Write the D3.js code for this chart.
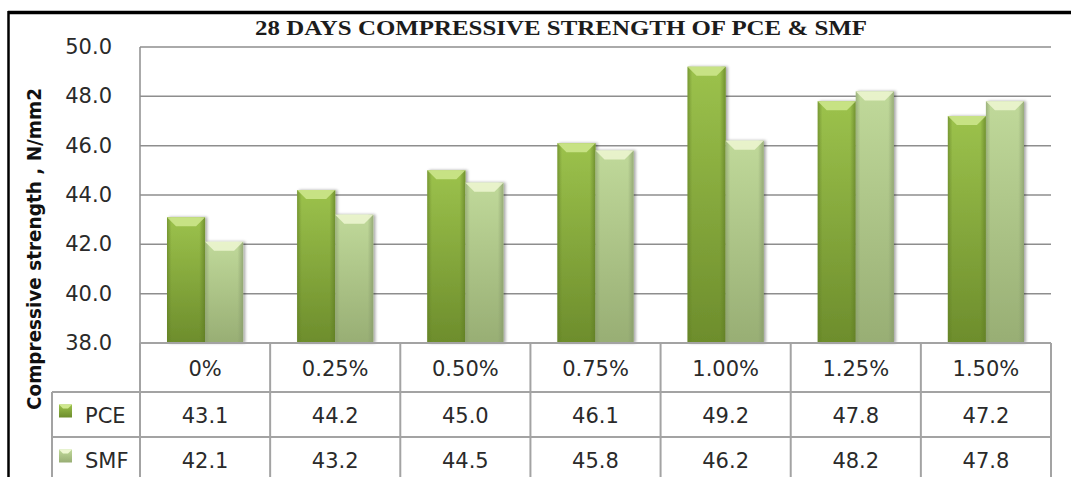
<!DOCTYPE html>
<html>
<head>
<meta charset="utf-8">
<script src="https://cdn.jsdelivr.net/npm/d3@7"></script>
<style>
  body { margin: 0; background: #fff; }
  svg { display: block; }
  .grid { stroke: #8e8e8e; stroke-width: 1.5; }
  .cell { stroke: #a3a3a3; stroke-width: 2; fill: none; }
  .tick { font-family: "DejaVu Sans", sans-serif; font-size: 21px; fill: #2a2a2a; }
  .val { font-family: "DejaVu Sans", sans-serif; font-size: 21px; fill: #2a2a2a; }
</style>
</head>
<body>
<div id="main"></div>
<script>
const ctx = {
    W: 1071,
    H: 477,
};

const categories = ["0%", "0.25%", "0.50%", "0.75%", "1.00%", "1.25%", "1.50%"];
const seriesNames = ["PCE", "SMF"];
const pce = [43.1, 44.2, 45.0, 46.1, 49.2, 47.8, 47.2];
const smf = [42.1, 43.2, 44.5, 45.8, 46.2, 48.2, 47.8];
const yTicks = [38, 40, 42, 44, 46, 48, 50];
const title = "28 DAYS COMPRESSIVE STRENGTH OF PCE & SMF";
const yLabel = "Compressive strength , N/mm2";

const colors = {
    PCE: { top: "#cfe88e", light: "#9cc24c", dark: "#6d8d2c", edge: "#5f7d24" },
    SMF: { top: "#eef7d2", light: "#c0d99a", dark: "#98ae74", edge: "#86996a" },
};

function createViz() {
    let svg = d3.select("#main").append("svg")
        .attr("width", ctx.W)
        .attr("height", ctx.H);

    let defs = svg.append("defs");
    seriesNames.forEach(s => {
        let c = colors[s];
        let v = defs.append("linearGradient").attr("id", "v" + s)
            .attr("x1", 0).attr("y1", 0).attr("x2", 0).attr("y2", 1);
        v.append("stop").attr("offset", "0%").attr("stop-color", c.light);
        v.append("stop").attr("offset", "100%").attr("stop-color", c.dark);
        let h = defs.append("linearGradient").attr("id", "h" + s)
            .attr("x1", 0).attr("y1", 0).attr("x2", 1).attr("y2", 0);
        h.append("stop").attr("offset", "0%").attr("stop-color", c.edge).attr("stop-opacity", 0.6);
        h.append("stop").attr("offset", "12%").attr("stop-color", c.edge).attr("stop-opacity", 0);
        h.append("stop").attr("offset", "85%").attr("stop-color", c.edge).attr("stop-opacity", 0);
        h.append("stop").attr("offset", "100%").attr("stop-color", c.edge).attr("stop-opacity", 0.7);
    });
    let sh = defs.append("filter").attr("id", "shadow")
        .attr("x", "-20%").attr("y", "-10%").attr("width", "150%").attr("height", "120%");
    sh.append("feGaussianBlur").attr("in", "SourceAlpha").attr("stdDeviation", 1.5);
    sh.append("feOffset").attr("dx", 2).attr("dy", 0).attr("result", "b");
    sh.append("feComponentTransfer").append("feFuncA").attr("type", "linear").attr("slope", 0.35);
    let m = sh.append("feMerge");
    m.append("feMergeNode");
    m.append("feMergeNode").attr("in", "SourceGraphic");

    // outer frame
    svg.append("line").attr("x1", 8).attr("x2", ctx.W).attr("y1", 12.5).attr("y2", 12.5)
        .attr("stroke", "#000").attr("stroke-width", 3.5);
    svg.append("line").attr("x1", 8.5).attr("x2", 8.5).attr("y1", 11).attr("y2", ctx.H)
        .attr("stroke", "#000").attr("stroke-width", 2.5);

    // title
    svg.append("text")
        .attr("x", 561).attr("y", 35)
        .attr("text-anchor", "middle")
        .attr("textLength", 612).attr("lengthAdjust", "spacingAndGlyphs")
        .style("font-family", "'Liberation Serif', 'Times New Roman', serif")
        .style("font-weight", "bold").style("font-size", "22px").style("fill", "#1c1c1c")
        .text(title);

    let x0 = d3.scaleBand().domain(categories).range([140, 1051])
        .paddingInner(0.415).paddingOuter(0.2075);
    let x1 = d3.scaleBand().domain(seriesNames).range([0, x0.bandwidth()]);
    let y = d3.scaleLinear().domain([38, 50]).range([343, 47]);
    let cols = d3.scaleBand().domain(categories).range([140, 1051]);

    // gridlines
    svg.append("g").selectAll("line").data(yTicks.filter(t => t > 38)).enter().append("line")
        .attr("class", "grid")
        .attr("x1", 140).attr("x2", 1051)
        .attr("y1", d => y(d)).attr("y2", d => y(d));
    svg.append("line").attr("class", "grid")
        .attr("x1", 140).attr("x2", 140).attr("y1", y(50)).attr("y2", y(38));

    // y tick labels
    svg.append("g").selectAll("text").data(yTicks).enter().append("text")
        .attr("class", "tick")
        .attr("x", 112).attr("y", d => y(d) + 7)
        .attr("text-anchor", "end")
        .text(d => d3.format(".1f")(d));

    // y label
    svg.append("text")
        .attr("transform", "translate(41,249) rotate(-90)")
        .attr("text-anchor", "middle")
        .attr("textLength", 322).attr("lengthAdjust", "spacingAndGlyphs")
        .style("font-family", "'DejaVu Sans', sans-serif")
        .style("font-weight", "bold").style("font-size", "19px").style("fill", "#111")
        .text(yLabel);

    // bars
    let rows = categories.map((c, i) => ({ cat: c, PCE: pce[i], SMF: smf[i] }));
    let groups = svg.append("g").selectAll("g").data(rows).enter().append("g")
        .attr("transform", d => "translate(" + x0(d.cat) + ",0)");
    let bars = groups.selectAll("g").data(d => seriesNames.map(s => ({ s: s, v: d[s] })))
        .enter().append("g")
        .attr("filter", "url(#shadow)");
    bars.append("rect")
        .attr("x", d => x1(d.s)).attr("width", x1.bandwidth())
        .attr("y", d => y(d.v)).attr("height", d => y(38) - y(d.v))
        .attr("fill", d => "url(#v" + d.s + ")");
    bars.append("rect")
        .attr("x", d => x1(d.s)).attr("width", x1.bandwidth())
        .attr("y", d => y(d.v)).attr("height", d => y(38) - y(d.v))
        .attr("fill", d => "url(#h" + d.s + ")");
    bars.append("path")
        .attr("d", d => {
            let bx = x1(d.s), bw = x1.bandwidth(), by = y(d.v);
            return "M" + bx + "," + by + "L" + (bx + bw) + "," + by +
                "L" + (bx + bw - 9) + "," + (by + 9) + "L" + (bx + 9) + "," + (by + 9) + "Z";
        })
        .attr("fill", d => colors[d.s].top).attr("opacity", 0.85);

    // data table
    let table = svg.append("g");
    let rowY = [343, 392, 437, 482];
    table.append("line").attr("class", "cell")
        .attr("x1", 140).attr("x2", 1051).attr("y1", rowY[0]).attr("y2", rowY[0]);
    table.selectAll("line.h").data([rowY[1], rowY[2]]).enter().append("line")
        .attr("class", "cell")
        .attr("x1", 52).attr("x2", 1051).attr("y1", d => d).attr("y2", d => d);
    let vx = categories.map(c => cols(c)).concat([1051]);
    table.selectAll("line.v").data(vx).enter().append("line")
        .attr("class", "cell")
        .attr("x1", d => d).attr("x2", d => d).attr("y1", rowY[0]).attr("y2", ctx.H);
    table.append("line").attr("class", "cell")
        .attr("x1", 52).attr("x2", 52).attr("y1", rowY[1]).attr("y2", ctx.H);

    table.selectAll("text.cat").data(categories).enter().append("text")
        .attr("class", "val")
        .attr("x", d => cols(d) + cols.bandwidth() / 2).attr("y", 376)
        .attr("text-anchor", "middle").text(d => d);
    [pce, smf].forEach((vals, r) => {
        table.selectAll("text.r" + r).data(vals).enter().append("text")
            .attr("class", "val")
            .attr("x", (d, i) => cols(categories[i]) + cols.bandwidth() / 2)
            .attr("y", (rowY[r + 1] + rowY[r + 2]) / 2 + 8)
            .attr("text-anchor", "middle").text(d => d3.format(".1f")(d));
        let s = seriesNames[r];
        let ly = (rowY[r + 1] + rowY[r + 2]) / 2;
        table.append("rect").attr("x", 59).attr("y", ly - 10).attr("width", 13).attr("height", 13)
            .attr("fill", "url(#v" + s + ")");
        table.append("path")
            .attr("d", "M59," + (ly - 10) + "L72," + (ly - 10) + "L68," + (ly - 6) + "L63," + (ly - 6) + "Z")
            .attr("fill", colors[s].top);
        table.append("text").attr("class", "val")
            .attr("x", 85).attr("y", ly + 8).text(s);
    });
}

createViz();
</script>
</body>
</html>
